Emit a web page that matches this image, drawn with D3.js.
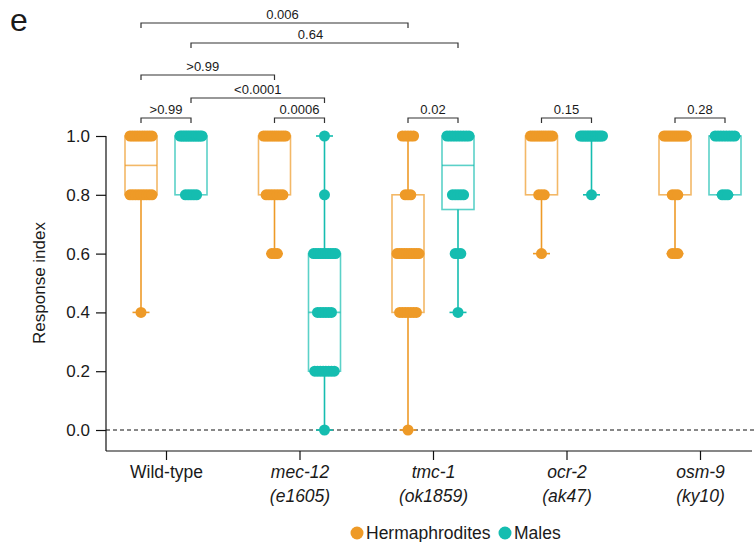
<!DOCTYPE html>
<html>
<head>
<meta charset="utf-8">
<script src="https://cdn.jsdelivr.net/npm/d3@7"></script>
<style>
  body { margin: 0; background: #fff; }
  text { font-family: "Liberation Sans", Arial, sans-serif; fill: #1a1a1a; }
</style>
</head>
<body>
<svg id="chart" width="755" height="542"></svg>
<script>
// groups on the x axis
const genes = ["Wild-type", "mec-12", "tmc-1", "ocr-2", "osm-9"];
const alleles = ["", "(e1605)", "(ok1859)", "(ak47)", "(ky10)"];
const sexes = ["Hermaphrodites", "Males"];

// response index levels and how many animals sit at each level
const levels = [0, 0.2, 0.4, 0.6, 0.8, 1.0];
const hermCounts = [
  [0, 0, 1, 0, 9, 10],
  [0, 0, 0, 3, 7, 11],
  [1, 0, 7, 10, 3, 5],
  [0, 0, 0, 1, 3, 11],
  [0, 0, 0, 3, 3, 12]
];
const maleCounts = [
  [0, 0, 0, 0, 5, 14],
  [1, 8, 6, 10, 1, 1],
  [0, 0, 1, 3, 5, 9],
  [0, 0, 0, 0, 1, 14],
  [0, 0, 0, 0, 3, 8]
];

// comparisons: [gene a, sex a, gene b, sex b, p value]
const comparisons = [
  [0, 0, 2, 0, "0.006"],
  [0, 1, 2, 1, "0.64"],
  [0, 0, 1, 0, ">0.99"],
  [0, 1, 1, 1, "<0.0001"],
  [0, 0, 0, 1, ">0.99"],
  [1, 0, 1, 1, "0.0006"],
  [2, 0, 2, 1, "0.02"],
  [3, 0, 3, 1, "0.15"],
  [4, 0, 4, 1, "0.28"]
];
const bracketY = [23, 43, 75, 98, 118, 118, 118, 118, 118];
const labelShift = [8, -14, -5, 0, 0, 0, 0, 0, 0];

const colors = { Hermaphrodites: "#EE9A27", Males: "#15BDB0" };

const svg = d3.select("#chart");

const x = d3.scalePoint().domain(genes).range([166, 700]);
const sub = d3.scalePoint().domain(sexes).range([-25, 25]);
const y = d3.scaleLinear().domain([-0.0714, 1]).range([451, 136]);

// quartiles the way Prism does it: position (n+1)p
function quart(sorted, p) {
  const n = sorted.length;
  let pos = (n + 1) * p;
  if (pos < 1) pos = 1;
  if (pos > n) pos = n;
  const lo = Math.floor(pos), f = pos - lo;
  const a = sorted[lo - 1], b = sorted[Math.min(lo, n - 1)];
  return a + f * (b - a);
}

const series = [];
genes.forEach((g, gi) => {
  sexes.forEach((s, si) => {
    const counts = si === 0 ? hermCounts[gi] : maleCounts[gi];
    const vals = [];
    const pts = [];
    counts.forEach((c, li) => {
      const spread = c > 1 ? Math.min(22, (c - 1) * 2.8) : 0;
      for (let i = 0; i < c; i++) {
        vals.push(levels[li]);
        pts.push({ v: levels[li], off: c > 1 ? i * spread / (c - 1) - spread / 2 : 0 });
      }
    });
    vals.sort(d3.ascending);
    series.push({
      gene: g, sex: s, pts: pts,
      cx: x(g) + sub(s),
      min: vals[0], max: vals[vals.length - 1],
      q1: quart(vals, 0.25), med: quart(vals, 0.5), q3: quart(vals, 0.75)
    });
  });
});

// y axis
const yAxis = svg.append("g")
  .attr("transform", "translate(106,0)")
  .call(d3.axisLeft(y).tickValues([0, 0.2, 0.4, 0.6, 0.8, 1.0]).tickFormat(d3.format(".1f")).tickSize(10).tickPadding(6));
yAxis.select(".domain").attr("d", "M0,136V451").attr("stroke", "#111").attr("stroke-width", 1.2);
yAxis.selectAll(".tick line").attr("stroke", "#111").attr("stroke-width", 1.2);
yAxis.selectAll(".tick text").style("font-size", "17px").attr("fill", "#1a1a1a");

svg.append("text")
  .attr("transform", "translate(45,283) rotate(-90)")
  .attr("text-anchor", "middle")
  .style("font-size", "17px")
  .text("Response index");

// x axis
const xAxis = svg.append("g")
  .attr("transform", "translate(0,451)")
  .call(d3.axisBottom(x).tickSize(9).tickFormat(""));
xAxis.select(".domain").attr("d", "M106,0H752").attr("stroke", "#111").attr("stroke-width", 1.2);
xAxis.selectAll(".tick line").attr("stroke", "#111").attr("stroke-width", 1.2);
xAxis.selectAll(".tick").each(function (d, i) {
  const t = d3.select(this).append("text")
    .attr("text-anchor", "middle")
    .style("font-size", "17.5px")
    .attr("fill", "#1a1a1a");
  t.append("tspan").attr("x", 0).attr("y", 27)
    .style("font-style", i === 0 ? "normal" : "italic").text(genes[i]);
  if (alleles[i]) {
    t.append("tspan").attr("x", 0).attr("y", 51).style("font-style", "italic").text(alleles[i]);
  }
});

// zero line
svg.append("line")
  .attr("x1", 106).attr("x2", 755)
  .attr("y1", y(0)).attr("y2", y(0))
  .attr("stroke", "#111").attr("stroke-width", 1)
  .attr("stroke-dasharray", "4,3");

// boxes and whiskers
const bw = 32, capW = 17;
const box = svg.append("g").selectAll("g").data(series).join("g");
box.append("rect")
  .attr("x", d => d.cx - bw / 2).attr("width", bw)
  .attr("y", d => y(d.q3)).attr("height", d => y(d.q1) - y(d.q3))
  .attr("fill", "none")
  .attr("stroke", d => colors[d.sex]).attr("stroke-opacity", 0.7).attr("stroke-width", 1.6);
box.append("line")
  .attr("x1", d => d.cx - bw / 2).attr("x2", d => d.cx + bw / 2)
  .attr("y1", d => y(d.med)).attr("y2", d => y(d.med))
  .attr("stroke", d => colors[d.sex]).attr("stroke-opacity", 0.7).attr("stroke-width", 1.6);
box.append("line")
  .attr("x1", d => d.cx).attr("x2", d => d.cx)
  .attr("y1", d => y(d.q1)).attr("y2", d => y(d.min))
  .attr("stroke", d => colors[d.sex]).attr("stroke-width", 1.6);
box.append("line")
  .attr("x1", d => d.cx).attr("x2", d => d.cx)
  .attr("y1", d => y(d.q3)).attr("y2", d => y(d.max))
  .attr("stroke", d => colors[d.sex]).attr("stroke-width", 1.6);
["min", "max"].forEach(k => {
  box.append("line")
    .attr("x1", d => d.cx - capW / 2).attr("x2", d => d.cx + capW / 2)
    .attr("y1", d => y(d[k])).attr("y2", d => y(d[k]))
    .attr("stroke", d => colors[d.sex]).attr("stroke-width", 1.6);
});

// dots
box.selectAll("circle")
  .data(d => d.pts.map(p => ({ ...p, cx: d.cx, sex: d.sex })))
  .join("circle")
  .attr("cx", p => p.cx + p.off)
  .attr("cy", p => y(p.v))
  .attr("r", 5.5)
  .attr("fill", p => colors[p.sex]);

// significance brackets
const br = svg.append("g");
comparisons.forEach((c, i) => {
  const x1 = x(genes[c[0]]) + sub(sexes[c[1]]);
  const x2 = x(genes[c[2]]) + sub(sexes[c[3]]);
  const yy = bracketY[i];
  br.append("path")
    .attr("d", `M${x1},${yy + 5}V${yy}H${x2}V${yy + 5}`)
    .attr("fill", "none").attr("stroke", "#333").attr("stroke-width", 1.2);
  br.append("text")
    .attr("x", (x1 + x2) / 2 + labelShift[i]).attr("y", yy - 4.5)
    .attr("text-anchor", "middle")
    .style("font-size", "13px")
    .text(c[4]);
});

// panel letter
svg.append("text").attr("x", 10).attr("y", 31).style("font-size", "32px").text("e");

// legend
const leg = svg.append("g").attr("transform", "translate(0,533)");
[[357, 366], [505, 514]].forEach((p, i) => {
  leg.append("circle").attr("cx", p[0]).attr("cy", 0).attr("r", 6.5).attr("fill", colors[sexes[i]]);
  leg.append("text").attr("x", p[1]).attr("y", 6).style("font-size", "17.5px").text(sexes[i]);
});
</script>
</body>
</html>
